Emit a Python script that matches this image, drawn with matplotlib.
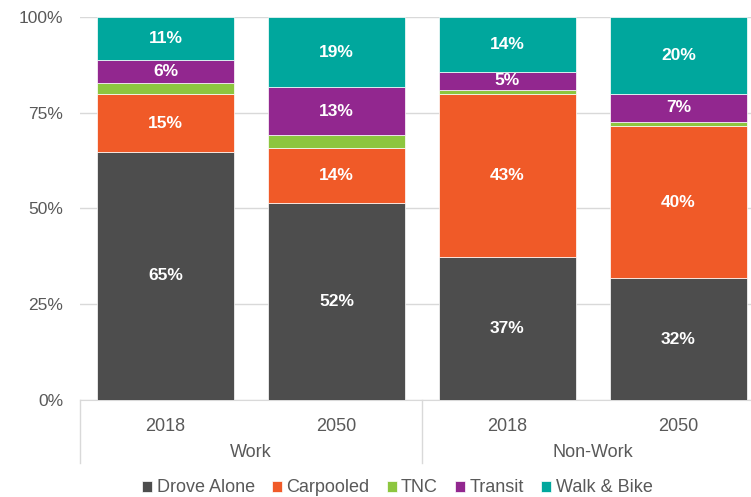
import matplotlib
matplotlib.use("Agg")
import matplotlib.pyplot as plt
import matplotlib.transforms as mtransforms

plt.rcParams['font.family'] = ['Liberation Sans', 'DejaVu Sans']

years = ['2018', '2050', '2018', '2050']
groups = ['Work', 'Non-Work']
modes = ['Drove Alone', 'Carpooled', 'TNC', 'Transit', 'Walk & Bike']
colors = ['#4d4d4d', '#f05a28', '#8dc63f', '#92278f', '#00a79d']

drove_alone = [64.8, 51.4, 37.3, 31.8]
carpooled = [15.0, 14.4, 42.5, 39.7]
tnc = [2.9, 3.3, 1.1, 1.2]
transit = [6.2, 12.5, 4.8, 7.1]
walk_bike = [11.1, 18.4, 14.3, 20.2]
labels = [
    ['65%', '52%', '37%', '32%'],
    ['15%', '14%', '43%', '40%'],
    ['', '', '', ''],
    ['6%', '13%', '5%', '7%'],
    ['11%', '19%', '14%', '20%'],
]

series = [drove_alone, carpooled, tnc, transit, walk_bike]

fig = plt.figure(figsize=(7.51, 4.97), dpi=100)
ax = fig.add_axes([80 / 751, 97 / 497, 684 / 751, 383 / 497])

x = list(range(len(years)))
bottom = [0.0] * len(years)
for vals, col, name, labs in zip(series, colors, modes, labels):
    ax.bar(x, [v / 100 for v in vals], 0.8, bottom=[b / 100 for b in bottom],
           color=col, label=name, edgecolor='white', linewidth=0.5, zorder=3)
    for i, (v, lab) in enumerate(zip(vals, labs)):
        if lab:
            ax.text(i, (bottom[i] + v / 2) / 100, lab, ha='center', va='center',
                    color='white', fontsize=12.5, fontweight='bold', zorder=4)
    bottom = [b + v for b, v in zip(bottom, vals)]

ax.set_xlim(-0.5, 3.5)
ax.set_ylim(0, 1)
ax.set_yticks([0, 0.25, 0.5, 0.75, 1.0])
ax.set_yticklabels(['0%', '25%', '50%', '75%', '100%'])
ax.yaxis.grid(True, color='#d9d9d9', linewidth=1, zorder=0)
ax.set_xticks(x)
ax.set_xticklabels(years)
ax.tick_params(axis='both', length=0, labelsize=12.5, colors='#595959')
ax.tick_params(axis='x', labelsize=13, pad=13)
ax.tick_params(axis='y', pad=12)
for s in ['top', 'right', 'left']:
    ax.spines[s].set_visible(False)
ax.spines['bottom'].set_color('#d9d9d9')

trans = mtransforms.blended_transform_factory(ax.transData, ax.transAxes)
for xs in [-0.5, 1.5]:
    ax.plot([xs, xs], [0, -0.165], transform=trans, color='#d9d9d9', linewidth=1, clip_on=False)
for gx, g in zip([0.5, 2.5], groups):
    ax.text(gx, -0.138, g, transform=trans, ha='center', va='center', fontsize=13, color='#595959')

fig.legend(loc='center', bbox_to_anchor=(0.529, 1 - 488 / 497), ncol=5, frameon=False,
           fontsize=13, handlelength=0.55, handleheight=0.55, handletextpad=0.25,
           columnspacing=0.95, labelcolor='#595959')

fig.savefig('out.png', dpi=100)
